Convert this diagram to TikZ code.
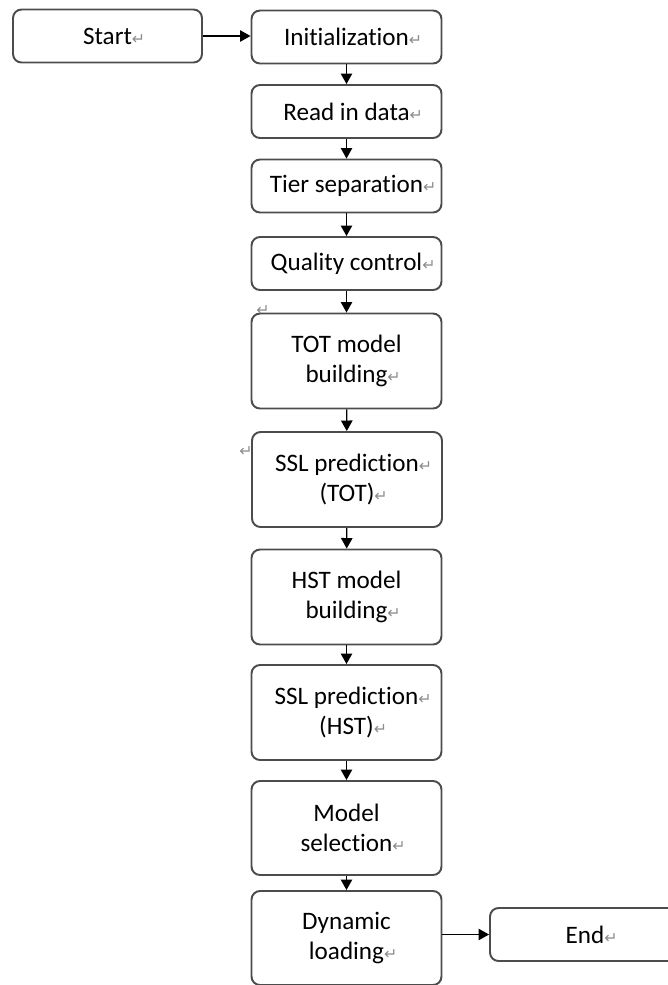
\documentclass[tikz,border=0pt]{standalone}
\usepackage{fontspec}
\setmainfont{Carlito}[RawFeature=-liga]
\newfontfamily\markfont{DejaVu Sans}
\usepackage{tikz}
\usetikzlibrary{arrows.meta}
\usetikzlibrary{positioning,calc}

% paragraph mark as left by the word processor
\newcommand{\pmark}{\rlap{\markfont\fontsize{9}{9}\selectfont\color{black!45}↵}}

\tikzset{
    state/.style={
           rectangle,
           rounded corners=0.17cm,
           draw=black!70, line width=1.1pt,
           minimum width=3.8cm,
           minimum height=1.06cm,
           inner sep=2pt,
           font=\fontsize{14.3}{17}\selectfont,
           align=center,
           },
    state2/.style={
           state,
           minimum height=1.9cm,
           },
    strayMark/.style={
           inner sep=0pt,
           },
}

\begin{document}
\begin{tikzpicture}
[
x=0.02cm, y=-0.02cm,
->,>={Triangle[length=6pt,width=6.5pt]},
line width=0.8pt
]

 \useasboundingbox (0,0) rectangle (667,985);

 % START and END
 \node[state, minimum width=3.78cm] (START) at (107.5,36) {Start\pmark};
 \node[state] (END) at (585,934.5) {End\pmark};

 % main column, short boxes
 \node[state] (INIT) at (346.5,37)    {Initialization\pmark};
 \node[state] (READ) at (346.5,111.5) {Read in data\pmark};
 \node[state] (TIER) at (346.5,186)   {Tier separation\pmark};
 \node[state] (QC)   at (346.5,263.5) {Quality control\pmark};

 % main column, tall boxes
 \node[state2] (TOT)     at (346.5,361)   {TOT model\\ building\pmark};
 \node[state2] (SSLTOT)  at (347,479.5)   {SSL prediction\pmark\\ (TOT)\pmark};
 \node[state2] (HST)     at (346.5,597)   {HST model\\ building\pmark};
 \node[state2] (SSLHST)  at (346.5,712.5) {SSL prediction\pmark\\ (HST)\pmark};
 \node[state2, minimum height=1.88cm] (MODSEL) at (346.5,828) {Model\\ selection\pmark};
 \node[state2, minimum height=1.88cm] (DYNLOAD) at (346.5,938) {Dynamic\\ loading\pmark};

 % stray marks
 \node[strayMark] (STRAYA) at (263,311) {\markfont\fontsize{9}{9}\selectfont\color{black!45}↵};
 \node[strayMark] (STRAYB) at (246,452) {\markfont\fontsize{9}{9}\selectfont\color{black!45}↵};

 % draw the paths
 \path
  (START.east) edge (START.east -| INIT.west)
  (INIT) edge (READ)
  (READ) edge (TIER)
  (TIER) edge (QC)
  (QC) edge (TOT)
  (TOT) edge (SSLTOT)
  (SSLTOT) edge (HST)
  (HST) edge (SSLHST)
  (SSLHST) edge (MODSEL)
  (MODSEL) edge (DYNLOAD)
  (END.west -| DYNLOAD.east) edge (END.west)
 ;
\end{tikzpicture}
\end{document}
